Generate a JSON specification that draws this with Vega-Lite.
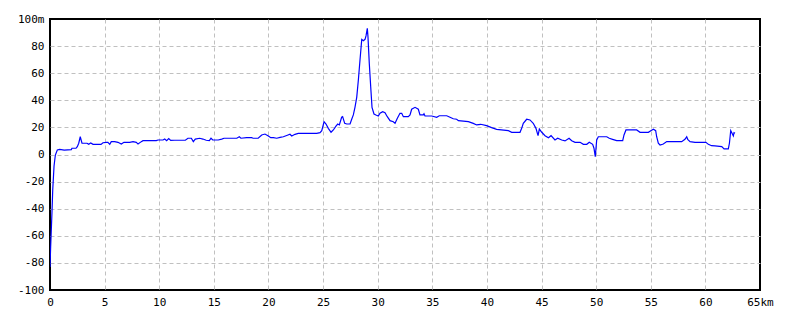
{
  "$schema": "https://vega.github.io/schema/vega-lite/v6.json",
  "autosize": "none",
  "width": 710,
  "height": 271,
  "padding": {"left": 50, "top": 19, "right": 40, "bottom": 30},
  "background": "#ffffff",
  "config": {
    "view": {"stroke": "#000000", "strokeWidth": 2},
    "axis": {
      "labelFont": "DejaVu Sans Mono",
      "labelFontSize": 11,
      "labelColor": "#000000",
      "ticks": false,
      "domain": false,
      "gridDash": [4, 3],
      "gridWidth": 1,
      "gridOpacity": 1,
      "labelFlush": false,
      "labelOverlap": false,
      "title": null
    }
  },
  "data": {
    "values": [
      {"km": 0.0, "m": -83}, {"km": 0.06, "m": -68}, {"km": 0.18, "m": -43}, {"km": 0.25, "m": -26},
      {"km": 0.37, "m": -8.5}, {"km": 0.49, "m": -0.4}, {"km": 0.67, "m": 3.3}, {"km": 0.89, "m": 3.8},
      {"km": 1.3, "m": 3.3}, {"km": 1.95, "m": 3.6}, {"km": 2.01, "m": 4.6}, {"km": 2.38, "m": 4.6},
      {"km": 2.5, "m": 5.8}, {"km": 2.63, "m": 8.3}, {"km": 2.77, "m": 13.1}, {"km": 2.93, "m": 8.3},
      {"km": 3.39, "m": 8.3}, {"km": 3.54, "m": 7.5}, {"km": 3.73, "m": 8.5}, {"km": 3.94, "m": 7.5},
      {"km": 4.21, "m": 7.5}, {"km": 4.67, "m": 7.5}, {"km": 4.85, "m": 8.7}, {"km": 5.15, "m": 9},
      {"km": 5.3, "m": 9}, {"km": 5.47, "m": 7.5}, {"km": 5.61, "m": 9.5}, {"km": 5.92, "m": 9.5},
      {"km": 6.22, "m": 9}, {"km": 6.53, "m": 7.7}, {"km": 6.77, "m": 9}, {"km": 7.3, "m": 9},
      {"km": 7.6, "m": 9.5}, {"km": 7.9, "m": 9}, {"km": 8.06, "m": 7.7}, {"km": 8.36, "m": 9.5},
      {"km": 8.51, "m": 10.2}, {"km": 9.73, "m": 10.2}, {"km": 9.89, "m": 10.7}, {"km": 10.35, "m": 10.7},
      {"km": 10.5, "m": 11.4}, {"km": 10.68, "m": 10.2}, {"km": 10.87, "m": 11.7}, {"km": 11.05, "m": 10.4},
      {"km": 11.42, "m": 10.5}, {"km": 12.39, "m": 10.5}, {"km": 12.63, "m": 12}, {"km": 12.94, "m": 12},
      {"km": 13.12, "m": 9.5}, {"km": 13.3, "m": 11.4}, {"km": 13.7, "m": 12}, {"km": 14.0, "m": 11.4},
      {"km": 14.3, "m": 10.5}, {"km": 14.59, "m": 10.2}, {"km": 14.74, "m": 12}, {"km": 14.9, "m": 10.7},
      {"km": 15.4, "m": 10.7}, {"km": 15.72, "m": 11.4}, {"km": 15.93, "m": 12}, {"km": 17.1, "m": 12},
      {"km": 17.33, "m": 13.1}, {"km": 17.48, "m": 12}, {"km": 18.0, "m": 12.4}, {"km": 18.46, "m": 12.4},
      {"km": 18.6, "m": 12}, {"km": 19.06, "m": 12}, {"km": 19.38, "m": 14.4}, {"km": 19.68, "m": 15.1},
      {"km": 19.99, "m": 13.7}, {"km": 20.21, "m": 12.4}, {"km": 20.45, "m": 12.4}, {"km": 20.76, "m": 12},
      {"km": 21.06, "m": 12.6}, {"km": 21.36, "m": 13.1}, {"km": 21.73, "m": 14.2}, {"km": 21.97, "m": 14.9},
      {"km": 22.13, "m": 13.7}, {"km": 22.43, "m": 14.9}, {"km": 22.73, "m": 15.6}, {"km": 23.5, "m": 15.6},
      {"km": 24.42, "m": 15.6}, {"km": 24.72, "m": 16.1}, {"km": 24.88, "m": 17.6}, {"km": 25.09, "m": 24.2},
      {"km": 25.27, "m": 22.5}, {"km": 25.48, "m": 19.3}, {"km": 25.73, "m": 16.4}, {"km": 25.94, "m": 18.1},
      {"km": 26.18, "m": 21}, {"km": 26.34, "m": 22.5}, {"km": 26.49, "m": 21.8}, {"km": 26.7, "m": 27.5},
      {"km": 26.79, "m": 27.9}, {"km": 26.98, "m": 23}, {"km": 27.17, "m": 22.5}, {"km": 27.47, "m": 22.5},
      {"km": 27.62, "m": 26}, {"km": 27.77, "m": 29.2}, {"km": 27.92, "m": 34.8}, {"km": 28.08, "m": 42.2},
      {"km": 28.23, "m": 55}, {"km": 28.38, "m": 69.7}, {"km": 28.54, "m": 85}, {"km": 28.69, "m": 84},
      {"km": 28.84, "m": 85}, {"km": 28.93, "m": 87.5}, {"km": 29.05, "m": 93.1}, {"km": 29.11, "m": 87},
      {"km": 29.23, "m": 67.3}, {"km": 29.36, "m": 50}, {"km": 29.48, "m": 34.8}, {"km": 29.66, "m": 29.9},
      {"km": 29.84, "m": 29.2}, {"km": 30.06, "m": 28.4}, {"km": 30.21, "m": 30.4}, {"km": 30.46, "m": 31.6},
      {"km": 30.67, "m": 30.8}, {"km": 30.88, "m": 27.9}, {"km": 31.13, "m": 25}, {"km": 31.43, "m": 24.2},
      {"km": 31.59, "m": 23}, {"km": 31.8, "m": 26.7}, {"km": 32.04, "m": 30.4}, {"km": 32.2, "m": 30.4},
      {"km": 32.35, "m": 27.9}, {"km": 32.8, "m": 27.9}, {"km": 32.96, "m": 29.2}, {"km": 33.11, "m": 33.4},
      {"km": 33.42, "m": 34.8}, {"km": 33.72, "m": 33.4}, {"km": 33.87, "m": 29.2}, {"km": 34.18, "m": 29.2},
      {"km": 34.24, "m": 30}, {"km": 34.33, "m": 28.4}, {"km": 34.95, "m": 28.4}, {"km": 35.4, "m": 27.5},
      {"km": 35.64, "m": 28.6}, {"km": 36.32, "m": 28.6}, {"km": 36.62, "m": 27.5}, {"km": 36.92, "m": 26.4},
      {"km": 37.23, "m": 26}, {"km": 37.39, "m": 25}, {"km": 38.3, "m": 24.2}, {"km": 38.75, "m": 23},
      {"km": 39.06, "m": 21.8}, {"km": 39.43, "m": 22.3}, {"km": 39.97, "m": 21.3}, {"km": 40.43, "m": 19.8},
      {"km": 40.89, "m": 18.6}, {"km": 41.96, "m": 17.6}, {"km": 42.27, "m": 16.4}, {"km": 43.03, "m": 16.4},
      {"km": 43.18, "m": 19.3}, {"km": 43.33, "m": 23}, {"km": 43.64, "m": 26}, {"km": 43.94, "m": 25.5},
      {"km": 44.24, "m": 23}, {"km": 44.49, "m": 19.3}, {"km": 44.68, "m": 13.9}, {"km": 44.8, "m": 18.8},
      {"km": 45.02, "m": 16.4}, {"km": 45.32, "m": 13.9}, {"km": 45.63, "m": 12.4}, {"km": 45.87, "m": 13.9},
      {"km": 46.23, "m": 10.7}, {"km": 46.48, "m": 12}, {"km": 46.85, "m": 10.7}, {"km": 47.15, "m": 10},
      {"km": 47.52, "m": 12}, {"km": 47.76, "m": 10.2}, {"km": 48.07, "m": 9}, {"km": 48.53, "m": 9},
      {"km": 48.83, "m": 7.5}, {"km": 49.14, "m": 7.5}, {"km": 49.37, "m": 9}, {"km": 49.68, "m": 7.5},
      {"km": 49.8, "m": 4.6}, {"km": 49.92, "m": -1.6}, {"km": 50.05, "m": 10.7}, {"km": 50.2, "m": 13.1},
      {"km": 50.97, "m": 13.1}, {"km": 51.2, "m": 12}, {"km": 51.5, "m": 11.2}, {"km": 51.88, "m": 10.2},
      {"km": 52.43, "m": 10.2}, {"km": 52.55, "m": 14.4}, {"km": 52.73, "m": 18.1}, {"km": 53.71, "m": 18.1},
      {"km": 54.02, "m": 16.4}, {"km": 54.78, "m": 16.4}, {"km": 55.0, "m": 17.6}, {"km": 55.24, "m": 18.6},
      {"km": 55.45, "m": 17.6}, {"km": 55.54, "m": 13.1}, {"km": 55.69, "m": 8.3}, {"km": 55.85, "m": 7},
      {"km": 56.15, "m": 7.7}, {"km": 56.46, "m": 9.5}, {"km": 57.83, "m": 9.5}, {"km": 58.13, "m": 11.2},
      {"km": 58.29, "m": 13.1}, {"km": 58.38, "m": 11.2}, {"km": 58.6, "m": 9.5}, {"km": 59.05, "m": 9},
      {"km": 60.05, "m": 9}, {"km": 60.27, "m": 7.5}, {"km": 60.57, "m": 6.5}, {"km": 60.88, "m": 6.3},
      {"km": 61.5, "m": 5.8}, {"km": 61.71, "m": 4.1}, {"km": 62.1, "m": 4.1}, {"km": 62.2, "m": 8.3},
      {"km": 62.32, "m": 17.6}, {"km": 62.44, "m": 15.6}, {"km": 62.56, "m": 13.7}, {"km": 62.62, "m": 16.1},
      {"km": 62.71, "m": 15.6}
    ]
  },
  "mark": {"type": "line", "color": "#0000ff", "strokeWidth": 1.2, "clip": true},
  "encoding": {
    "x": {
      "field": "km", "type": "quantitative",
      "scale": {"domain": [0, 65], "nice": false, "zero": false},
      "axis": {
        "values": [0, 5, 10, 15, 20, 25, 30, 35, 40, 45, 50, 55, 60, 65],
        "labelExpr": "datum.value == 65 ? '65km' : '' + datum.value",
        "labelPadding": 6,
        "grid": true,
        "gridColor": {"condition": {"test": "datum.value == 0 || datum.value == 65", "value": "transparent"}, "value": "#c0c0c0"}
      }
    },
    "y": {
      "field": "m", "type": "quantitative",
      "scale": {"domain": [-100, 100], "nice": false, "zero": false},
      "axis": {
        "values": [-100, -80, -60, -40, -20, 0, 20, 40, 60, 80, 100],
        "labelExpr": "datum.value == 100 ? '100m' : '' + datum.value",
        "labelPadding": 6,
        "grid": true,
        "gridColor": {"condition": {"test": "datum.value == -100 || datum.value == 100", "value": "transparent"}, "value": "#c0c0c0"}
      }
    }
  }
}
